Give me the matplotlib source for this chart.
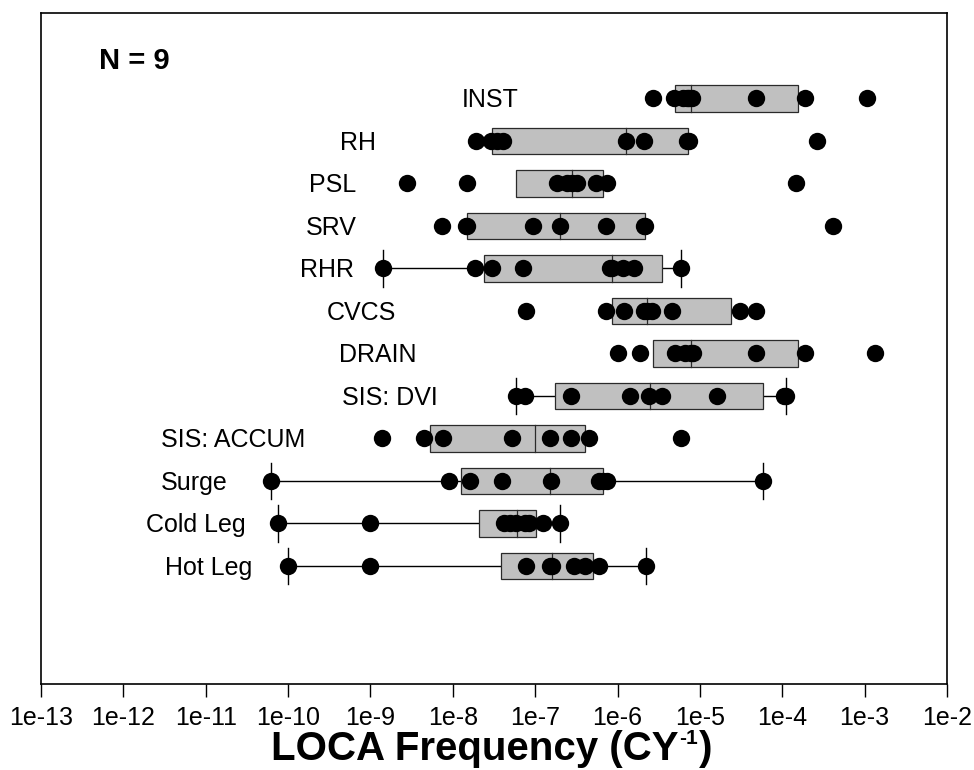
"""
Box plot of LOCA frequencies per system, with the nine estimates as dots.
"""

import numpy as np
import matplotlib.pyplot as plt

plt.rcParams['font.family'] = ['Liberation Sans', 'DejaVu Sans']

# rows, top to bottom
systems = ['INST', 'RH', 'PSL', 'SRV', 'RHR', 'CVCS', 'DRAIN', 'SIS: DVI',
           'SIS: ACCUM', 'Surge', 'Cold Leg', 'Hot Leg']

# individual estimates (CY^-1)
points = [
    [2.7e-6, 4.9e-6, 6.3e-6, 7.0e-6, 7.4e-6, 8.1e-6, 4.8e-5, 1.9e-4, 1.07e-3],
    [1.9e-8, 2.9e-8, 3.4e-8, 4.1e-8, 1.25e-6, 2.1e-6, 7.0e-6, 7.3e-6, 2.65e-4],
    [2.75e-9, 1.5e-8, 1.83e-7, 2.42e-7, 2.8e-7, 3.2e-7, 5.5e-7, 7.4e-7, 1.45e-4],
    [7.3e-9, 1.45e-8, 1.5e-8, 9.5e-8, 2.0e-7, 7.3e-7, 2.1e-6, 2.15e-6, 4.1e-4],
    [1.44e-9, 1.84e-8, 3.0e-8, 7.2e-8, 8.2e-7, 8.6e-7, 1.16e-6, 1.57e-6, 5.9e-6],
    [7.7e-8, 7.3e-7, 1.19e-6, 2.1e-6, 2.3e-6, 2.6e-6, 4.6e-6, 3.05e-5, 4.8e-5],
    [1.0e-6, 1.87e-6, 5.0e-6, 6.6e-6, 7.8e-6, 8.2e-6, 4.8e-5, 1.9e-4, 1.33e-3],
    [5.9e-8, 7.45e-8, 2.73e-7, 1.42e-6, 2.42e-6, 3.42e-6, 1.6e-5, 1.04e-4, 1.12e-4],
    [1.4e-9, 4.5e-9, 7.5e-9, 5.25e-8, 1.5e-7, 2.73e-7, 4.5e-7, 5.93e-6],
    [6.2e-11, 9.0e-9, 1.6e-8, 3.9e-8, 1.54e-7, 5.9e-7, 6.6e-7, 7.5e-7, 5.9e-5],
    [7.5e-11, 1.0e-9, 4.2e-8, 5.0e-8, 5.9e-8, 7.5e-8, 8.5e-8, 1.26e-7, 2.0e-7],
    [9.9e-11, 1.0e-9, 7.7e-8, 1.5e-7, 1.58e-7, 3.0e-7, 4.0e-7, 5.9e-7, 2.24e-6],
]

# box statistics
q1 = [4.95e-6, 3.03e-8, 5.8e-8, 1.5e-8, 2.4e-8, 8.45e-7, 2.72e-6, 1.74e-7,
      5.27e-9, 1.26e-8, 2.1e-8, 3.88e-8]
median = [7.8e-6, 1.25e-6, 2.81e-7, 1.98e-7, 8.6e-7, 2.3e-6, 7.8e-6, 2.51e-6,
          1.0e-7, 1.51e-7, 5.96e-8, 1.6e-7]
q3 = [1.55e-4, 7.24e-6, 6.75e-7, 2.14e-6, 3.49e-6, 2.38e-5, 1.55e-4, 5.85e-5,
      4.07e-7, 6.64e-7, 1.02e-7, 5.0e-7]
# whiskers only where the chart draws them (None = no whisker)
whisker_lo = [None, None, None, None, 1.44e-9, None, None, 5.9e-8,
              None, 6.2e-11, 7.5e-11, 9.9e-11]
whisker_hi = [None, None, None, None, 5.9e-6, None, None, 1.12e-4,
              None, 5.9e-5, 2.0e-7, 2.24e-6]

# left edge of each row label, in log10 units
label_x = [-7.886, -9.368, -9.745, -9.781, -9.854, -9.526, -9.380, -9.344,
           -11.542, -11.542, -11.725, -11.494]

tick_exp = list(range(-13, -1))


def draw_row(ax, y, i):
    """Whiskers, box, median and dots of one row."""
    half = 0.315
    if whisker_lo[i] is not None:
        ax.plot([whisker_lo[i], q1[i]], [y, y], color='black', lw=1, zorder=1)
        ax.plot([q3[i], whisker_hi[i]], [y, y], color='black', lw=1, zorder=1)
        for w in (whisker_lo[i], whisker_hi[i]):
            ax.plot([w, w], [y - 0.43, y + 0.43], color='black', lw=1,
                    zorder=1)
    ax.barh(y, q3[i] - q1[i], left=q1[i], height=2 * half,
            color='#c0c0c0', edgecolor='#2a2a2a', linewidth=0.9, zorder=2)
    ax.plot([median[i], median[i]], [y - half, y + half], color='#2a2a2a',
            lw=0.9, zorder=3)
    ax.plot(points[i], [y] * len(points[i]), 'o', color='black',
            markersize=12.5, markeredgewidth=0, zorder=4)
    ax.text(10 ** label_x[i], y - 0.21, systems[i], fontsize=18,
            ha='left', va='baseline')


def xlabel(fig):
    """Bold axis title with a small '-1' superscript."""
    base = 1 - 760 / 770
    main = fig.text(271 / 974, base, 'LOCA Frequency (CY', fontsize=29,
                    fontweight='bold', ha='left', va='baseline')
    fig.canvas.draw()
    bb = main.get_window_extent()
    x_end = bb.x1 / fig.bbox.width
    fig.text(x_end + 1 / 974, base + 16 / 770, '-1', fontsize=15,
             fontweight='bold', ha='left', va='baseline')
    fig.text(x_end + 20 / 974, base, ')', fontsize=29,
             fontweight='bold', ha='left', va='baseline')


def main():
    fig = plt.figure(figsize=(9.74, 7.70), dpi=100)
    ax = fig.add_axes([41 / 974, 86 / 770, 906 / 974, 671 / 770])
    n = len(systems)
    for i in range(n):
        draw_row(ax, n - i, i)

    ax.set_xscale('log')
    ax.set_xlim(1e-13, 1e-2)
    ax.set_ylim(-1.776, 14.01)
    ax.set_yticks([])
    ax.set_xticks([10.0 ** e for e in tick_exp])
    ax.set_xticklabels([f'1e{e}' for e in tick_exp], fontsize=18)
    ax.xaxis.set_minor_locator(plt.NullLocator())
    ax.tick_params(axis='x', direction='out', length=9, width=1, pad=7)
    for sp in ax.spines.values():
        sp.set_linewidth(1.2)

    fig.text(99 / 974, 1 - 69 / 770, 'N = 9', fontsize=21,
             fontweight='bold', va='baseline')
    xlabel(fig)

    fig.savefig('out.png', dpi=100)
    plt.close('all')


if __name__ == '__main__':
    main()
